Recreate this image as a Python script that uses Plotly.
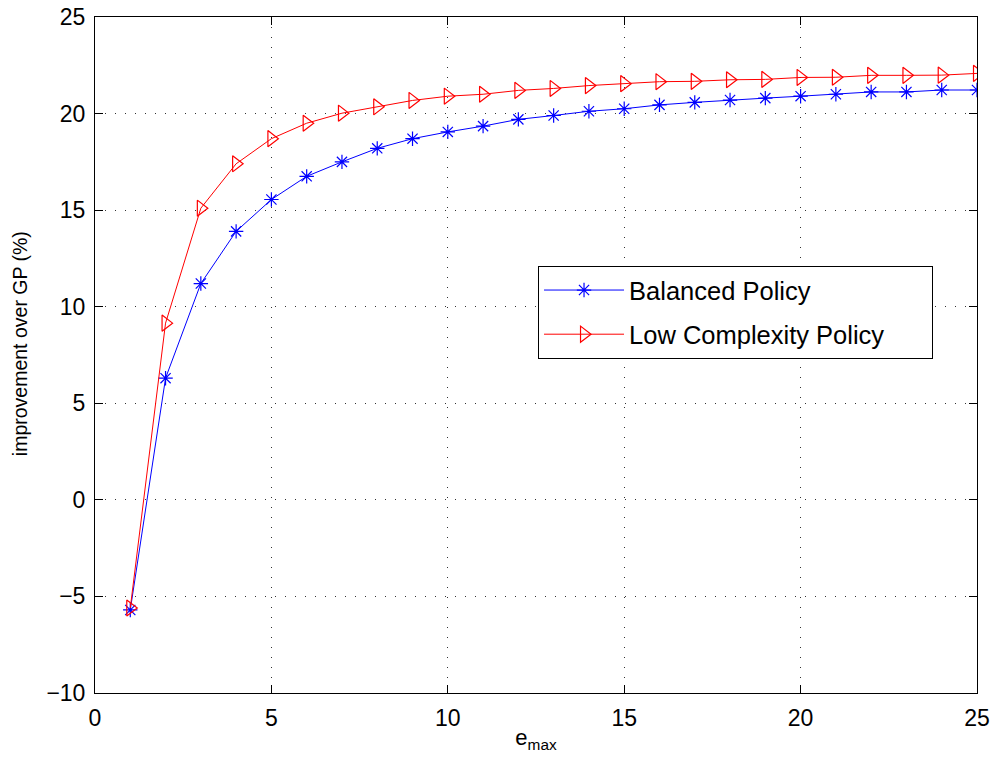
import plotly.graph_objects as go

e_max = list(range(1, 26))
balanced = [-5.7, 6.3, 11.2, 13.9, 15.55, 16.75, 17.5, 18.2, 18.7, 19.05, 19.35, 19.7,
            19.9, 20.12, 20.25, 20.45, 20.58, 20.7, 20.8, 20.9, 21.0, 21.12, 21.12, 21.22, 21.22]
low_complexity = [-5.6, 9.15, 15.1, 17.4, 18.7, 19.5, 20.02, 20.35, 20.68, 20.9, 21.0, 21.2,
                  21.3, 21.45, 21.55, 21.65, 21.67, 21.75, 21.77, 21.87, 21.88, 21.98, 21.98, 21.99, 22.08]
x_ticks = [0, 5, 10, 15, 20, 25]
y_ticks = [-10, -5, 0, 5, 10, 15, 20, 25]
legend_pad = "\u00a0" * 6

font = "Liberation Sans, Arial, Helvetica, sans-serif"

fig = go.Figure()
fig.add_trace(go.Scatter(
    x=e_max, y=balanced, mode="lines+markers", name="Balanced Policy", legendgroup="a",
    line=dict(color="#0000ff", width=1),
    marker=dict(symbol="asterisk-open", size=12, color="#0000ff", line=dict(color="#0000ff", width=1.2)),
))
fig.add_trace(go.Scatter(
    x=e_max, y=low_complexity, mode="lines+markers", name="Low Complexity Policy" + legend_pad,
    legendgroup="b",
    line=dict(color="#ff0000", width=1),
    marker=dict(symbol="triangle-right-open", size=14, color="#ff0000", line=dict(color="#ff0000", width=1.2)),
))

axis_common = dict(
    showline=True, linecolor="black", linewidth=1, mirror="ticks",
    ticks="inside", ticklen=8, tickcolor="black",
    showgrid=True, gridcolor="#333", griddash="1px,9px", gridwidth=1,
    zeroline=False, automargin=False, ticklabeloverflow="allow",
    tickfont=dict(size=23, color="black", family=font),
)

fig.update_xaxes(range=[0, 25], tickvals=x_ticks, ticklabelstandoff=4,
                 title=dict(text="e<sub>max</sub>", font=dict(size=22, color="black", family=font), standoff=0),
                 **axis_common)
fig.update_yaxes(range=[-10, 25], tickvals=y_ticks, ticklabelstandoff=4, **axis_common)

fig.add_annotation(
    text="improvement over GP (%)", textangle=-90,
    xref="paper", yref="paper", x=0, y=0.516, xshift=-75,
    xanchor="center", yanchor="middle", showarrow=False,
    font=dict(size=19.5, color="black", family=font),
)

fig.update_layout(
    width=995, height=760,
    margin=dict(l=95, r=18, t=17, b=67),
    plot_bgcolor="white", paper_bgcolor="white",
    font=dict(family=font, color="black"),
    legend=dict(
        x=0.5023, y=0.6317, xanchor="left", yanchor="top",
        bordercolor="black", borderwidth=1, bgcolor="white",
        font=dict(size=25.5, color="black", family=font),
        itemwidth=80, tracegroupgap=8,
    ),
    showlegend=True,
)

fig.write_html(
    "out.html",
    config={"displayModeBar": False},
    post_script="document.body.style.margin='0';document.documentElement.style.overflow='hidden';",
)
